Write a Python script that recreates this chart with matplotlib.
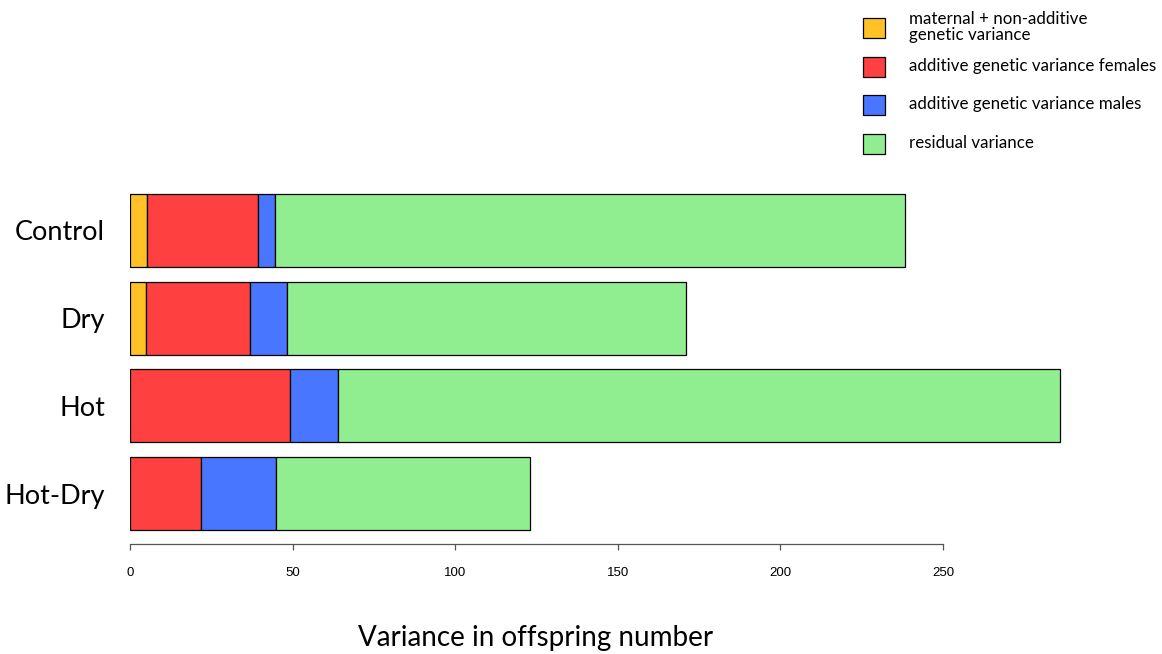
import matplotlib
matplotlib.use('Agg')
import matplotlib.pyplot as plt
from matplotlib.patches import Rectangle

# treatment groups and variance components
groups = ['Control', 'Dry', 'Hot', 'Hot-Dry']
maternal = [5.2, 4.9, 0.0, 0.0]
add_females = [34.2, 32.0, 49.2, 21.8]
add_males = [5.2, 11.4, 14.8, 23.1]
residual = [193.7, 122.7, 222.0, 78.1]

components = [maternal, add_females, add_males, residual]
labels = ['maternal + non-additive\ngenetic variance',
          'additive genetic variance females',
          'additive genetic variance males',
          'residual variance']
colors = ['#FFC125', '#FF4040', '#4876FF', '#90EE90']
ticks = [0, 50, 100, 150, 200, 250]

W, H = 1162, 654
fig = plt.figure(figsize=(W / 100, H / 100), dpi=100)

# axes placed in pixel coords: x 130 -> 1105.6 (0..300), y 180 -> 544
ax = fig.add_axes([130 / W, (H - 544) / H, 975.6 / W, 364 / H])
ax.set_xlim(0, 300)
ax.set_ylim(3.574, -0.574)

ypos = list(range(len(groups)))
left = [0.0] * len(groups)
for vals, col in zip(components, colors):
    ax.barh(ypos, vals, left=left, height=0.83, color=col,
            edgecolor='black', linewidth=0.9)
    left = [l + v for l, v in zip(left, vals)]

for s in ['top', 'right', 'left']:
    ax.spines[s].set_visible(False)
ax.spines['bottom'].set_bounds(0, 250)
ax.spines['bottom'].set_color('#555555')
ax.spines['bottom'].set_linewidth(0.9)
ax.set_xticks(ticks)
ax.set_xticklabels([str(t) for t in ticks],
                   family=['Liberation Sans Narrow', 'Liberation Sans', 'DejaVu Sans'],
                   fontsize=9.5)
ax.tick_params(axis='x', length=4.5, width=0.9, color='#555555', pad=12)

ax.set_yticks(ypos)
ax.set_yticklabels(groups, family=['Lato', 'DejaVu Sans'], fontsize=19.5)
ax.tick_params(axis='y', length=0, pad=18)

fig.text(536 / W, 1 - 638 / H, 'Variance in offspring number',
         ha='center', va='center', family=['Lato', 'DejaVu Sans'], fontsize=20)

# legend drawn by hand in pixel coordinates
for i, (lab, col) in enumerate(zip(labels, colors)):
    yc = 28 + 38.7 * i
    fig.add_artist(Rectangle((863 / W, 1 - (yc + 10) / H), 22 / W, 20 / H,
                             facecolor=col, edgecolor='black', linewidth=0.9,
                             transform=fig.transFigure))
    fig.text(909 / W, 1 - (yc - 1) / H, lab, ha='left', va='center',
             family=['Lato', 'DejaVu Sans'], fontsize=12.2, linespacing=0.95)

fig.savefig('out.png', dpi=100)
